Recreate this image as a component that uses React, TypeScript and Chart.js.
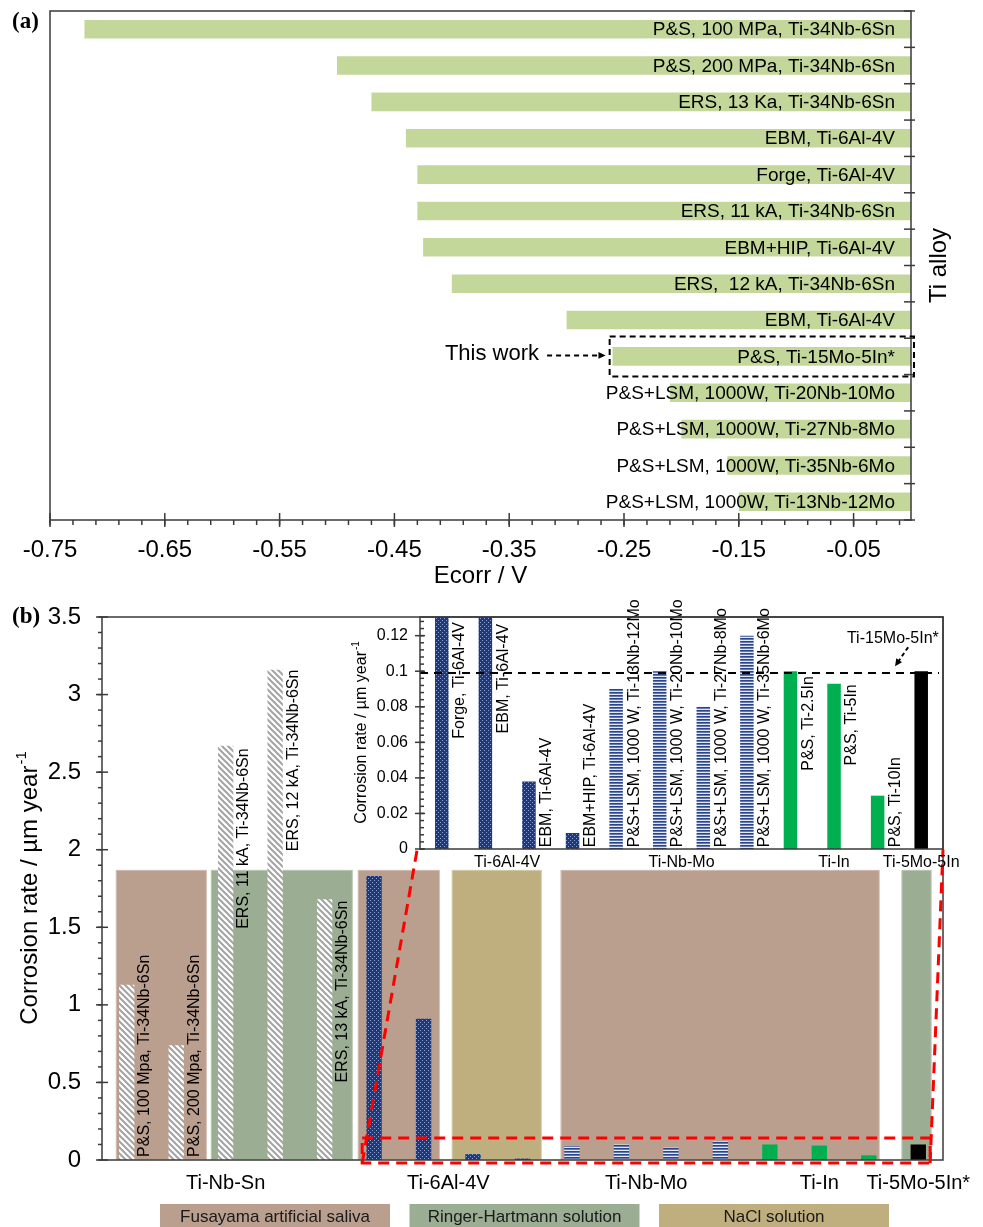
import React, { useEffect, useRef } from 'react';
import { Chart, registerables } from 'chart.js';
Chart.register(...registerables);

// ---------------- Panel (a): corrosion potential ----------------
const ecorrSamples = [
  'P&S, 100 MPa, Ti-34Nb-6Sn',
  'P&S, 200 MPa, Ti-34Nb-6Sn',
  'ERS, 13 Ka, Ti-34Nb-6Sn',
  'EBM, Ti-6Al-4V',
  'Forge, Ti-6Al-4V',
  'ERS, 11 kA, Ti-34Nb-6Sn',
  'EBM+HIP, Ti-6Al-4V',
  'ERS,  12 kA, Ti-34Nb-6Sn',
  'EBM, Ti-6Al-4V',
  'P&S, Ti-15Mo-5In*',
  'P&S+LSM, 1000W, Ti-20Nb-10Mo',
  'P&S+LSM, 1000W, Ti-27Nb-8Mo',
  'P&S+LSM, 1000W, Ti-35Nb-6Mo',
  'P&S+LSM, 1000W, Ti-13Nb-12Mo',
];
const ecorrValues = [-0.72, -0.5, -0.47, -0.44, -0.43, -0.43, -0.425, -0.4, -0.3, -0.26, -0.21, -0.2, -0.16, -0.15];
const ecorrTicks = [-0.75, -0.65, -0.55, -0.45, -0.35, -0.25, -0.15, -0.05];
const ecorrMin = -0.75;
const ecorrMax = 0;
const thisWorkIndex = 9;

// ---------------- Panel (b): corrosion rate ----------------
const rateSamples = [
  'P&S, 100 Mpa, Ti-34Nb-6Sn',
  'P&S, 200 Mpa, Ti-34Nb-6Sn',
  'ERS, 11 kA, Ti-34Nb-6Sn',
  'ERS, 12 kA, Ti-34Nb-6Sn',
  'ERS, 13 kA, Ti-34Nb-6Sn',
  'Forge, Ti-6Al-4V',
  'EBM, Ti-6Al-4V',
  'EBM, Ti-6Al-4V',
  'EBM+HIP, Ti-6Al-4V',
  'P&S+LSM, 1000 W, Ti-13Nb-12Mo',
  'P&S+LSM, 1000 W, Ti-20Nb-10Mo',
  'P&S+LSM, 1000 W, Ti-27Nb-8Mo',
  'P&S+LSM, 1000 W, Ti-35Nb-6Mo',
  'P&S, Ti-2.5In',
  'P&S, Ti-5In',
  'P&S, Ti-10In',
  'P&S, Ti-15Mo-5In*',
];
const rateValues = [1.13, 0.74, 2.67, 3.16, 1.68, 1.83, 0.91, 0.038, 0.009, 0.09, 0.1, 0.08, 0.12, 0.1, 0.093, 0.03, 0.1];
const rateGroup = [0, 0, 0, 0, 0, 1, 1, 1, 1, 2, 2, 2, 2, 3, 3, 3, 4];
const groupNames = ['Ti-Nb-Sn', 'Ti-6Al-4V', 'Ti-Nb-Mo', 'Ti-In', 'Ti-5Mo-5In*'];
const insetGroupNames = ['', 'Ti-6Al-4V', 'Ti-Nb-Mo', 'Ti-In', 'Ti-5Mo-5In'];
const showLabel = [true, true, true, true, true, true, true, true, true, true, true, true, true, true, true, true, false];
// value (µm/year) at which each rotated sample label begins
const labelStart = [0.02, 0.02, 1.49, 1.99, 0.5, 0.062, 0.065, 0.001, 0.001, 0.001, 0.001, 0.001, 0.001, 0.044, 0.047, 0.001, 0];
const insetFirst = 5;
const rateTicks = [0, 0.5, 1, 1.5, 2, 2.5, 3, 3.5];
const insetTicks = [0, 0.02, 0.04, 0.06, 0.08, 0.1, 0.12];
const insetMax = 0.1305;
const thisWorkRate = 0.099;
const mediumNames = ['Fusayama artificial saliva', 'Ringer-Hartmann solution', 'NaCl solution'];
const mediumColors = ['#BA9E8E', '#9BAD93', '#BFAF7F'];
// shaded medium blocks: [from category, to category, medium]
const mediumSpans: [number, number, number][] = [
  [-0.22, 1.62, 0],
  [1.7, 4.57, 1],
  [4.67, 6.33, 0],
  [6.57, 8.39, 2],
  [8.77, 15.22, 0],
  [15.66, 16.27, 1],
];
const mediumTop = 1.87;

const SANS = '"Liberation Sans", Arial, Helvetica, sans-serif';
const SERIF = '"Liberation Serif", "Times New Roman", serif';
const AXIS = '#3a3a3a';

function line(ctx: CanvasRenderingContext2D, x1: number, y1: number, x2: number, y2: number) {
  ctx.beginPath();
  ctx.moveTo(x1, y1);
  ctx.lineTo(x2, y2);
  ctx.stroke();
}

function titleWithSup(ctx: CanvasRenderingContext2D, x: number, y: number, size: number, main: string, sup: string) {
  ctx.save();
  ctx.translate(x, y);
  ctx.rotate(-Math.PI / 2);
  ctx.fillStyle = '#000';
  ctx.textBaseline = 'middle';
  ctx.textAlign = 'left';
  ctx.font = `${size}px ${SANS}`;
  const w1 = ctx.measureText(main).width;
  const supSize = Math.round(size * 0.62);
  ctx.font = `${supSize}px ${SANS}`;
  const w2 = ctx.measureText(sup).width;
  const x0 = -(w1 + w2) / 2;
  ctx.font = `${size}px ${SANS}`;
  ctx.fillText(main, x0, 0);
  ctx.font = `${supSize}px ${SANS}`;
  ctx.fillText(sup, x0 + w1 + 1, -size * 0.33);
  ctx.restore();
}

function dashedArrow(ctx: CanvasRenderingContext2D, x1: number, y1: number, x2: number, y2: number, head: number, dash: number[]) {
  const a = Math.atan2(y2 - y1, x2 - x1);
  ctx.save();
  ctx.strokeStyle = '#000';
  ctx.fillStyle = '#000';
  ctx.lineWidth = 2;
  ctx.setLineDash(dash);
  line(ctx, x1, y1, x2 - head * 0.8 * Math.cos(a), y2 - head * 0.8 * Math.sin(a));
  ctx.setLineDash([]);
  ctx.beginPath();
  ctx.moveTo(x2, y2);
  ctx.lineTo(x2 - head * Math.cos(a - 0.45), y2 - head * Math.sin(a - 0.45));
  ctx.lineTo(x2 - head * Math.cos(a + 0.45), y2 - head * Math.sin(a + 0.45));
  ctx.closePath();
  ctx.fill();
  ctx.restore();
}

function makeFills(ctx: CanvasRenderingContext2D): (CanvasPattern | string)[] {
  const hatch = document.createElement('canvas');
  hatch.width = 6;
  hatch.height = 6;
  const h = hatch.getContext('2d')!;
  h.fillStyle = '#ffffff';
  h.fillRect(0, 0, 6, 6);
  h.strokeStyle = '#A3A3A3';
  h.lineWidth = 2;
  h.beginPath();
  h.moveTo(-1, -1); h.lineTo(7, 7);
  h.moveTo(-1, 5); h.lineTo(1, 7);
  h.moveTo(5, -1); h.lineTo(7, 1);
  h.stroke();

  const dots = document.createElement('canvas');
  dots.width = 4;
  dots.height = 4;
  const d = dots.getContext('2d')!;
  d.fillStyle = '#1E3A7B';
  d.fillRect(0, 0, 4, 4);
  d.fillStyle = '#8E9FCB';
  d.fillRect(0, 0, 1, 1);
  d.fillRect(2, 2, 1, 1);

  const stripes = document.createElement('canvas');
  stripes.width = 2;
  stripes.height = 3;
  const s = stripes.getContext('2d')!;
  s.fillStyle = '#2B4589';
  s.fillRect(0, 0, 2, 1);
  s.fillStyle = '#6479B0';
  s.fillRect(0, 1, 2, 1);
  s.fillStyle = '#E4E8F2';
  s.fillRect(0, 2, 2, 1);

  return [
    ctx.createPattern(hatch, 'repeat')!,
    ctx.createPattern(dots, 'repeat')!,
    ctx.createPattern(stripes, 'repeat')!,
    '#00B050',
    '#000000',
  ];
}

const panelAPlugin = {
  id: 'panelA',
  afterDraw(chart: any) {
    const ctx: CanvasRenderingContext2D = chart.ctx;
    const { left, right, top, bottom } = chart.chartArea;
    const xs = chart.scales.x;
    const ys = chart.scales.y;
    const meta = chart.getDatasetMeta(0);
    ctx.save();
    // sample labels
    ctx.fillStyle = '#000';
    ctx.font = `19px ${SANS}`;
    ctx.textAlign = 'right';
    ctx.textBaseline = 'middle';
    meta.data.forEach((bar: any, i: number) => {
      ctx.fillText(ecorrSamples[i], xs.getPixelForValue(0) - 16, bar.y + 1);
    });
    // frame
    ctx.strokeStyle = AXIS;
    ctx.lineWidth = 1.5;
    ctx.strokeRect(left, top, right - left, bottom - top);
    // x ticks
    for (let k = 0; k <= 37; k++) {
      const x = xs.getPixelForValue(ecorrMin + 0.02 * k);
      line(ctx, x, bottom, x, bottom + 5);
    }
    ctx.font = `24px ${SANS}`;
    ctx.textAlign = 'center';
    ecorrTicks.forEach((v) => {
      const x = xs.getPixelForValue(v);
      line(ctx, x, bottom - 7, x, bottom + 7);
      ctx.fillText(v.toFixed(2), x, bottom + 30);
    });
    ctx.fillText('Ecorr / V', (left + right) / 2, bottom + 56);
    // right category ticks
    for (let i = 0; i <= ecorrSamples.length; i++) {
      const y = ys.getPixelForValue(i - 0.5);
      line(ctx, right - 7, y, right + 4, y);
    }
    // right title
    ctx.save();
    ctx.translate(right + 28, (top + bottom) / 2);
    ctx.rotate(-Math.PI / 2);
    ctx.font = `24px ${SANS}`;
    ctx.fillText('Ti alloy', 0, 0);
    ctx.restore();
    // this work box
    const tb = meta.data[thisWorkIndex];
    ctx.strokeStyle = '#000';
    ctx.lineWidth = 2;
    ctx.setLineDash([6, 4]);
    const bx = xs.getPixelForValue(-0.2625);
    ctx.strokeRect(bx, tb.y - 20, right + 3 - bx, 40);
    ctx.setLineDash([]);
    ctx.font = `22px ${SANS}`;
    ctx.textAlign = 'right';
    ctx.fillText('This work', xs.getPixelForValue(-0.324), tb.y - 2);
    dashedArrow(ctx, xs.getPixelForValue(-0.317), tb.y - 1, xs.getPixelForValue(-0.266), tb.y - 1, 8, [5, 4]);
    // panel letter
    ctx.font = `bold 23px ${SERIF}`;
    ctx.textAlign = 'left';
    ctx.fillText('(a)', 12, 22);
    ctx.restore();
  },
};

function drawSampleLabels(chart: any, offset: number, fontSize: number) {
  const ctx: CanvasRenderingContext2D = chart.ctx;
  const ys = chart.scales.y;
  const meta = chart.getDatasetMeta(0);
  ctx.save();
  ctx.fillStyle = '#000';
  ctx.font = `${fontSize}px ${SANS}`;
  ctx.textAlign = 'left';
  ctx.textBaseline = 'middle';
  meta.data.forEach((bar: any, j: number) => {
    const i = j + offset;
    if (offset === 0 && i >= insetFirst) return;
    if (!showLabel[i]) return;
    ctx.save();
    ctx.translate(bar.x + 18, ys.getPixelForValue(labelStart[i]));
    ctx.rotate(-Math.PI / 2);
    ctx.fillText(rateSamples[i], 0, 0);
    ctx.restore();
  });
  ctx.restore();
}

function groupCenters(from: number) {
  const sums: Record<number, [number, number]> = {};
  for (let i = from; i < rateGroup.length; i++) {
    const g = rateGroup[i];
    if (!sums[g]) sums[g] = [0, 0];
    sums[g][0] += i - from;
    sums[g][1] += 1;
  }
  return Object.keys(sums).map((k) => ({ g: Number(k), c: sums[Number(k)][0] / sums[Number(k)][1] }));
}

const panelBPlugin = {
  id: 'panelB',
  beforeDatasetsDraw(chart: any) {
    const ctx: CanvasRenderingContext2D = chart.ctx;
    const xs = chart.scales.x;
    const ys = chart.scales.y;
    ctx.save();
    mediumSpans.forEach(([a, b, m]) => {
      const x1 = xs.getPixelForValue(a);
      const x2 = xs.getPixelForValue(b);
      const y1 = ys.getPixelForValue(mediumTop);
      const y2 = ys.getPixelForValue(0);
      ctx.fillStyle = mediumColors[m];
      ctx.fillRect(x1, y1, x2 - x1, y2 - y1);
      ctx.strokeStyle = 'rgba(255,255,255,0.35)';
      ctx.lineWidth = 1;
      ctx.strokeRect(x1 + 0.5, y1 + 0.5, x2 - x1 - 1, y2 - y1 - 1);
    });
    ctx.restore();
  },
  afterDraw(chart: any) {
    const ctx: CanvasRenderingContext2D = chart.ctx;
    const { left, right, top, bottom } = chart.chartArea;
    const xs = chart.scales.x;
    const ys = chart.scales.y;
    drawSampleLabels(chart, 0, 16);
    ctx.save();
    ctx.strokeStyle = AXIS;
    ctx.lineWidth = 1.5;
    ctx.strokeRect(left, top, right - left, bottom - top);
    for (let k = 0; k <= 35; k++) {
      const y = ys.getPixelForValue(k * 0.1);
      line(ctx, left - 4, y, left, y);
    }
    ctx.fillStyle = '#000';
    ctx.font = `24px ${SANS}`;
    ctx.textAlign = 'right';
    ctx.textBaseline = 'middle';
    rateTicks.forEach((v) => {
      const y = ys.getPixelForValue(v);
      line(ctx, left - 6, y, left + 6, y);
      ctx.fillText(String(v), left - 21, y);
    });
    titleWithSup(ctx, 30, (top + bottom) / 2, 24, 'Corrosion rate / µm year', '-1');
    // group labels
    ctx.font = `20px ${SANS}`;
    ctx.textAlign = 'center';
    groupCenters(0).forEach(({ g, c }) => {
      ctx.fillText(groupNames[g], xs.getPixelForValue(c), bottom + 23);
    });
    // zoom region
    ctx.strokeStyle = '#FF0000';
    ctx.lineWidth = 3;
    ctx.setLineDash([11, 7]);
    const rx1 = xs.getPixelForValue(4.76);
    const rx2 = xs.getPixelForValue(16.24);
    const ry1 = ys.getPixelForValue(0.142);
    const ry2 = ys.getPixelForValue(-0.02);
    ctx.strokeRect(rx1, ry1, rx2 - rx1, ry2 - ry1);
    line(ctx, rx1, ry2, xs.getPixelForValue(5.87), ys.getPixelForValue(2.0));
    line(ctx, rx2, ry2, xs.getPixelForValue(16.5), ys.getPixelForValue(2.0));
    ctx.setLineDash([]);
    // panel letter
    ctx.font = `bold 23px ${SERIF}`;
    ctx.textAlign = 'left';
    ctx.fillText('(b)', 12, top);
    // legend
    const lw = 230;
    const gap = 19.5;
    const lx0 = 160;
    const ly = chart.height - 23;
    ctx.font = `17px ${SANS}`;
    ctx.textAlign = 'center';
    mediumNames.forEach((name, m) => {
      const x = lx0 + m * (lw + gap);
      ctx.fillStyle = mediumColors[m];
      ctx.fillRect(x, ly, lw, 30);
      ctx.fillStyle = '#1a1a1a';
      ctx.fillText(name, x + lw / 2, ly + 13);
    });
    ctx.restore();
  },
};

const panelCPlugin = {
  id: 'panelC',
  afterDraw(chart: any) {
    const ctx: CanvasRenderingContext2D = chart.ctx;
    const { left, right, top, bottom } = chart.chartArea;
    const xs = chart.scales.x;
    const ys = chart.scales.y;
    drawSampleLabels(chart, insetFirst, 16);
    ctx.save();
    // this-work reference line
    ctx.strokeStyle = '#000';
    ctx.lineWidth = 2;
    ctx.setLineDash([8, 6]);
    const yr = ys.getPixelForValue(thisWorkRate);
    line(ctx, left, yr, right - 4, yr);
    ctx.setLineDash([]);
    ctx.strokeStyle = AXIS;
    ctx.lineWidth = 1.5;
    ctx.strokeRect(left, top, right - left, bottom - top);
    for (let k = 0; k <= 32; k++) {
      const y = ys.getPixelForValue(k * 0.004);
      line(ctx, left, y, left + 4, y);
    }
    ctx.fillStyle = '#000';
    ctx.font = `16px ${SANS}`;
    ctx.textAlign = 'right';
    ctx.textBaseline = 'middle';
    insetTicks.forEach((v) => {
      const y = ys.getPixelForValue(v);
      line(ctx, left - 5, y, left + 5, y);
      ctx.fillText(String(+v.toFixed(2)), left - 12, y);
    });
    titleWithSup(ctx, 22, (top + bottom) / 2, 16, 'Corrosion rate / µm year', '-1');
    ctx.textAlign = 'center';
    groupCenters(insetFirst).forEach(({ g, c }) => {
      ctx.fillText(insetGroupNames[g], xs.getPixelForValue(c), bottom + 14);
    });
    // annotation
    ctx.fillText('Ti-15Mo-5In*', xs.getPixelForValue(10.35), ys.getPixelForValue(0.1185));
    dashedArrow(ctx, xs.getPixelForValue(10.7), ys.getPixelForValue(0.1135), xs.getPixelForValue(10.4), ys.getPixelForValue(0.1028), 8, [4, 3]);
    ctx.restore();
  },
};

export default function App() {
  const aRef = useRef<HTMLCanvasElement>(null);
  const bRef = useRef<HTMLCanvasElement>(null);
  const cRef = useRef<HTMLCanvasElement>(null);

  useEffect(() => {
    const charts: Chart[] = [];
    const common = {
      animation: false as const,
      responsive: false,
      maintainAspectRatio: false,
      events: [] as any[],
      plugins: { legend: { display: false }, tooltip: { enabled: false } },
    };

    charts.push(
      new Chart(aRef.current!, {
        type: 'bar',
        data: {
          labels: ecorrSamples,
          datasets: [
            {
              data: ecorrValues,
              backgroundColor: '#C4D79B',
              borderWidth: 0,
              barPercentage: 0.51,
              categoryPercentage: 1,
            },
          ],
        },
        options: {
          ...common,
          indexAxis: 'y',
          layout: { padding: { left: 50, right: 72, top: 11, bottom: 80 } },
          scales: {
            x: { type: 'linear', min: ecorrMin, max: ecorrMax, display: false },
            y: { type: 'category', display: false },
          },
        } as any,
        plugins: [panelAPlugin],
      })
    );

    const bCtx = bRef.current!.getContext('2d')!;
    const bFills = makeFills(bCtx);
    charts.push(
      new Chart(bRef.current!, {
        type: 'bar',
        data: {
          labels: rateSamples,
          datasets: [
            {
              data: rateValues,
              backgroundColor: rateGroup.map((g) => bFills[g]) as any,
              borderWidth: 0,
              barPercentage: 0.31,
              categoryPercentage: 1,
            },
          ],
        },
        options: {
          ...common,
          layout: { padding: { left: 102, right: 40, top: 27, bottom: 67 } },
          scales: {
            x: { type: 'category', display: false },
            y: { type: 'linear', min: 0, max: 3.5, display: false },
          },
        } as any,
        plugins: [panelBPlugin],
      })
    );

    const cCtx = cRef.current!.getContext('2d')!;
    const cFills = makeFills(cCtx);
    charts.push(
      new Chart(cRef.current!, {
        type: 'bar',
        data: {
          labels: rateSamples.slice(insetFirst),
          datasets: [
            {
              data: rateValues.slice(insetFirst),
              backgroundColor: rateGroup.slice(insetFirst).map((g) => cFills[g]) as any,
              borderWidth: 0,
              barPercentage: 0.31,
              categoryPercentage: 1,
            },
          ],
        },
        options: {
          ...common,
          layout: { padding: { left: 80, right: 40, top: 27, bottom: 31 } },
          scales: {
            x: { type: 'category', display: false },
            y: { type: 'linear', min: 0, max: insetMax, display: false },
          },
        } as any,
        plugins: [panelCPlugin],
      })
    );

    return () => charts.forEach((c) => c.destroy());
  }, []);

  return (
    <div style={{ position: 'absolute', left: 0, top: 0, width: 983, height: 1227, overflow: 'hidden', background: '#fff' }}>
      <canvas ref={aRef} width={983} height={600} style={{ position: 'absolute', left: 0, top: 0 }} />
      <canvas ref={bRef} width={983} height={637} style={{ position: 'absolute', left: 0, top: 590 }} />
      <canvas ref={cRef} width={643} height={290} style={{ position: 'absolute', left: 340, top: 590 }} />
    </div>
  );
}
